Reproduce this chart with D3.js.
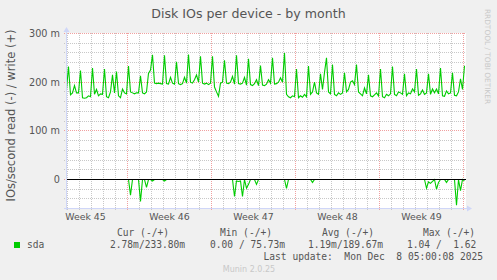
<!DOCTYPE html>
<html>
<head>
<meta charset="utf-8">
<script src="https://cdn.jsdelivr.net/npm/d3@7"></script>
<style>
body { margin: 0; background: #f0f0f0; }
svg { display: block; }
text { font-family: "DejaVu Sans", sans-serif; }
.mono { font-family: "DejaVu Sans Mono", monospace; }
</style>
</head>
<body>
<svg width="497" height="280"></svg>
<script>
// time span of the month graph (rrd: 2h points drawn at 4h steps here)
var endTime = Date.UTC(2025, 11, 8, 5, 0, 8);
var spanSec = 2880000;
var stepSec = 4 * 3600;

// write IOs/s (milli), one value per 4 hours
var writes = [
    185, 232, 174, 178, 193, 178,
    178, 224, 168, 167, 168, 172,
    170, 229, 175, 185, 172, 176,
    175, 227, 170, 168, 180, 215,
    178, 222, 172, 168, 186, 178,
    176, 233, 180, 178, 176, 178,
    178, 213, 178, 176, 180, 218,
    225, 256, 198, 197, 198, 197,
    196, 255, 197, 196, 210, 198,
    196, 242, 197, 195, 197, 210,
    198, 257, 200, 198, 205, 215,
    200, 253, 198, 196, 198, 195,
    198, 253, 190, 180, 171, 198,
    200, 245, 198, 197, 200, 212,
    196, 255, 197, 196, 198, 210,
    194, 248, 195, 193, 197, 205,
    193, 234, 194, 193, 196, 205,
    198, 250, 196, 197, 200, 209,
    200, 260, 175, 170, 168, 172,
    170, 227, 168, 172, 169, 175,
    170, 233, 175, 180, 200, 178,
    175, 217, 185, 220, 250, 180,
    176, 236, 175, 172, 178, 175,
    178, 219, 180, 185, 200, 203,
    195, 236, 180, 176, 172, 188,
    176, 215, 172, 170, 174, 178,
    172, 227, 170, 168, 175, 172,
    176, 232, 175, 172, 180, 178,
    175, 217, 172, 178, 176, 186,
    180, 227, 173, 176, 184, 175,
    178, 217, 175, 186, 178, 186,
    176, 229, 172, 171, 182, 176,
    178, 219, 173, 172, 180, 207,
    185, 233.8
];

// read IOs/s (milli), drawn below zero
var reads = [
    0, 0, 0, 0, 0, 0, 0, 0, 0, 0, 0, 0, 0, 0, 0, 0, 0, 0, 0, 0,
    0, 0, 0, 0, 0, 0, 0, 0, 0, 0, 0, 0, 32, 0, 0, 0, 0, 45, 0, 0,
    16, 0, 0, 3, 0, 0, 0, 0, 0, 3, 0, 0, 0, 0, 0, 0, 0, 0, 0, 0,
    0, 0, 0, 0, 0, 0, 0, 0, 0, 0, 0, 0, 0, 0, 0, 0, 0, 0, 0, 0,
    0, 0, 0, 0, 35, 3, 4, 3, 35, 0, 18, 10, 0, 0, 0, 10, 0, 0, 0, 0,
    0, 0, 0, 0, 0, 0, 0, 0, 0, 0, 18, 0, 0, 0, 0, 0, 0, 0, 0, 0,
    0, 0, 0, 6, 0, 0, 0, 0, 0, 0, 0, 0, 0, 0, 0, 0, 0, 0, 0, 0,
    0, 0, 0, 0, 0, 0, 0, 0, 0, 0, 0, 0, 0, 0, 0, 0, 0, 0, 0, 0,
    0, 0, 0, 0, 0, 0, 0, 0, 0, 0, 0, 0, 0, 0, 0, 0, 0, 0, 0, 0,
    18, 5, 8, 4, 0, 20, 6, 0, 0, 0, 6, 0, 0, 0, 0, 53, 0, 23, 0, 2.78
];

var yTicks = [0, 100, 200, 300];
var weekLabels = ["Week 45", "Week 46", "Week 47", "Week 48", "Week 49"];
var statHeads = ["Cur (-/+)", "Min (-/+)", "Avg (-/+)", "Max (-/+)"];
var statVals = ["2.78m/233.80m", "0.00 / 75.73m", "1.19m/189.67m", "1.04 /  1.62"];

var svg = d3.select("svg")
    , pL = 66, pR = 466, pT = 33, pB = 208
    , startTime = endTime - spanSec * 1000;

var x = d3.scaleUtc().domain([startTime, endTime]).range([pL, pR]);
// range picked so that zero falls on a pixel centre
var y = d3.scaleLinear().domain([-60, 300]).range([208.7, 33.5]);
var py = function (v) { return Math.floor(y(v)) + 0.5; };

svg.append("rect").attr("width", 497).attr("height", 280).attr("fill", "#f0f0f0");
svg.append("rect").attr("x", pL).attr("y", pT).attr("width", pR - pL).attr("height", pB - pT).attr("fill", "#fff");

// grid
var hMinor = d3.range(-40, 301, 20).filter(function (v) { return v % 100 != 0; });
svg.append("g").selectAll("line").data(hMinor).enter().append("line")
    .attr("x1", pL - 2).attr("x2", pR)
    .attr("y1", function (d) { return py(d); })
    .attr("y2", function (d) { return py(d); })
    .attr("stroke", "#c8c8c8").attr("stroke-dasharray", "1,1");

var days = d3.utcDay.range(d3.utcDay.ceil(new Date(startTime)), new Date(endTime))
    .filter(function (d) { return d.getUTCDay() != 1; });
svg.append("g").selectAll("line").data(days).enter().append("line")
    .attr("x1", function (d) { return Math.round(x(d)) + 0.5; })
    .attr("x2", function (d) { return Math.round(x(d)) + 0.5; })
    .attr("y1", pT).attr("y2", pB + 2)
    .attr("stroke", "#c8c8c8").attr("stroke-dasharray", "1,1");

svg.append("g").selectAll("line").data(yTicks).enter().append("line")
    .attr("x1", pL - 2).attr("x2", pR)
    .attr("y1", function (d) { return py(d); })
    .attr("y2", function (d) { return py(d); })
    .attr("stroke", "#f0a0a0").attr("stroke-dasharray", "1,1");

var mondays = d3.utcMonday.range(new Date(startTime), new Date(endTime));
svg.append("g").selectAll("line").data(mondays).enter().append("line")
    .attr("x1", function (d) { return Math.round(x(d)) + 0.5; })
    .attr("x2", function (d) { return Math.round(x(d)) + 0.5; })
    .attr("y1", pT).attr("y2", pB + 2)
    .attr("stroke", "#f0a0a0").attr("stroke-dasharray", "1,1");

// y tick labels
svg.append("g").selectAll("text").data(yTicks).enter().append("text")
    .attr("x", 60).attr("y", function (d) { return y(d) + 3.5; })
    .attr("text-anchor", "end").attr("font-size", "9.7px").attr("fill", "#555")
    .text(function (d) { return d == 0 ? "0" : d + " m"; });

// week labels, centred in each week
var labelWeeks = d3.utcMonday.range(d3.utcMonday.floor(new Date(startTime)), new Date(endTime));
svg.append("g").selectAll("text").data(labelWeeks).enter().append("text")
    .attr("x", function (d) { return x(d.getTime() + 3.5 * 86400000); })
    .attr("y", 220)
    .attr("text-anchor", "middle").attr("font-size", "9.4px").attr("fill", "#555")
    .text(function (d, i) { return weekLabels[i]; });

// series
svg.append("clipPath").attr("id", "plot").append("rect")
    .attr("x", pL).attr("y", pT - 2).attr("width", pR - pL).attr("height", pB - pT + 2);
var timeAt = function (i) { return startTime + (i * stepSec + 3600) * 1000; };
var line = d3.line().x(function (d) { return x(d[0]); }).y(function (d) { return y(d[1]); });
var g = svg.append("g").attr("clip-path", "url(#plot)");
g.append("path")
    .attr("d", line(writes.map(function (v, i) { return [timeAt(i), v]; })))
    .attr("fill", "none").attr("stroke", "#00cc00").attr("stroke-width", 1.1);
g.append("path")
    .attr("d", line(reads.map(function (v, i) { return [timeAt(i), -v]; })))
    .attr("fill", "none").attr("stroke", "#00cc00").attr("stroke-width", 1.1);

// zero rule
svg.append("line").attr("x1", pL).attr("x2", pR)
    .attr("y1", py(0)).attr("y2", py(0))
    .attr("stroke", "#000").attr("stroke-width", 1);

// axes with arrows
var axisColor = "#cfd6f8";
svg.append("line").attr("x1", pL + 0.5).attr("x2", pL + 0.5).attr("y1", pB + 2).attr("y2", pT - 4)
    .attr("stroke", axisColor);
svg.append("path").attr("d", "M" + (pL - 2.5) + "," + (pT - 1) + "L" + (pL + 3.5) + "," + (pT - 1) + "L" + (pL + 0.5) + "," + (pT - 6) + "Z")
    .attr("fill", axisColor);
svg.append("line").attr("x1", pL - 2).attr("x2", pR + 4).attr("y1", pB + 0.5).attr("y2", pB + 0.5)
    .attr("stroke", axisColor);
svg.append("path").attr("d", "M" + (pR + 1) + "," + (pB - 2.5) + "L" + (pR + 1) + "," + (pB + 3.5) + "L" + (pR + 6) + "," + (pB + 0.5) + "Z")
    .attr("fill", axisColor);

// title and axis label
svg.append("text").attr("x", 248.5).attr("y", 18).attr("text-anchor", "middle")
    .attr("font-size", "12.6px").attr("fill", "#555").text("Disk IOs per device - by month");
svg.append("text").attr("transform", "translate(15,115.5) rotate(-90)").attr("text-anchor", "middle")
    .attr("font-size", "11.5px").attr("fill", "#555").text("IOs/second read (-) / write (+)");
svg.append("text").attr("transform", "translate(485,56.5) rotate(90)").attr("text-anchor", "middle")
    .attr("font-size", "7.4px").attr("fill", "#c8c8c8").text("RRDTOOL / TOBI OETIKER");

// legend
var headX = [117, 220, 322, 423], valX = [110, 210, 308, 407];
svg.append("rect").attr("x", 14).attr("y", 242).attr("width", 6).attr("height", 6).attr("fill", "#00cc00");
svg.append("text").attr("class", "mono").attr("x", 27).attr("y", 248)
    .attr("font-size", "9.6px").attr("fill", "#555").text("sda");
svg.append("g").selectAll("text").data(statHeads).enter().append("text")
    .attr("class", "mono").attr("x", function (d, i) { return headX[i]; }).attr("y", 236)
    .attr("font-size", "9.6px").attr("fill", "#555").style("white-space", "pre")
    .text(function (d) { return d; });
svg.append("g").selectAll("text").data(statVals).enter().append("text")
    .attr("class", "mono").attr("x", function (d, i) { return valX[i]; }).attr("y", 248)
    .attr("font-size", "9.6px").attr("fill", "#555").style("white-space", "pre")
    .text(function (d) { return d; });
svg.append("text").attr("class", "mono").attr("x", 483).attr("y", 260).attr("text-anchor", "end")
    .attr("font-size", "9.6px").attr("fill", "#555").style("white-space", "pre")
    .text("Last update:  Mon Dec  8 05:00:08 2025");
svg.append("text").attr("x", 249).attr("y", 272).attr("text-anchor", "middle")
    .attr("font-size", "8px").attr("fill", "#c8c8c8").text("Munin 2.0.25");
</script>
</body>
</html>
